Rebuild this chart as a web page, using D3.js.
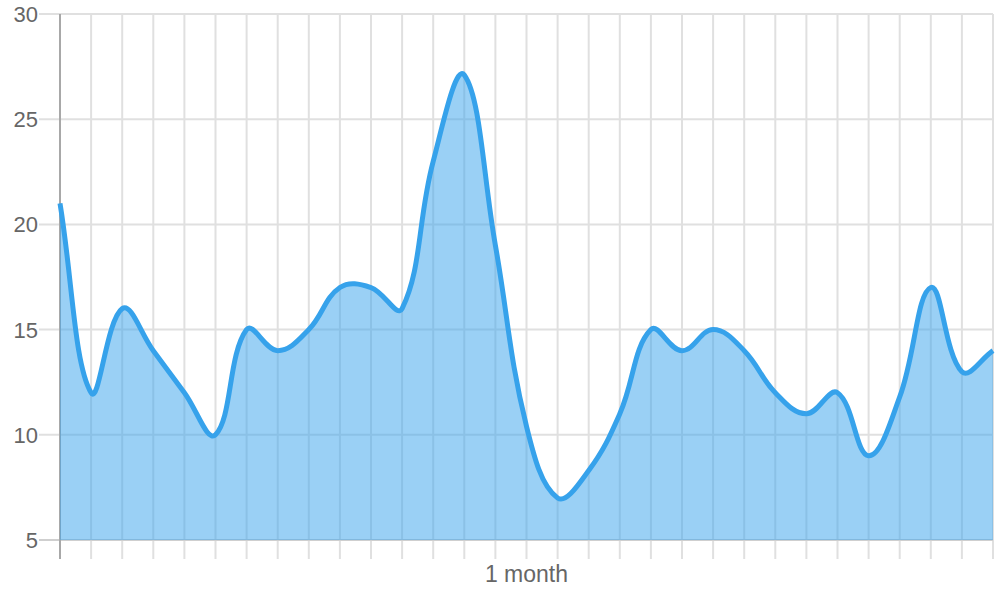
<!DOCTYPE html>
<html>
<head>
<meta charset="utf-8">
<script src="https://cdn.jsdelivr.net/npm/d3@7"></script>
<style>
  html, body { margin: 0; padding: 0; background: #fff; }
  svg { display: block; }
</style>
</head>
<body>
<svg id="chart" width="1000" height="600"></svg>
<script>
// ---- data ----
const values = [21, 12, 16, 14, 12, 10, 15, 14, 15, 17, 17, 16, 23, 27.1, 19, 10.4, 7, 8.3, 11, 15, 14, 15, 14, 12, 11, 12, 9, 11.8, 17, 13, 14];
const yTicks = [5, 10, 15, 20, 25, 30];
const xLabelIndex = [15];
const xLabelText = ["1 month"];

(function () {
// ---- layout ----
const mLeft = 60, mRight = 993, mTop = 14, mBottom = 540;
const svg = d3.select("#chart");

const x = d3.scaleLinear().domain([0, values.length - 1]).range([mLeft, mRight]);
const y = d3.scaleLinear().domain([5, 30]).range([mBottom, mTop]);

const font = "'Liberation Sans', Arial, Helvetica, sans-serif";

// grid: vertical
const g = svg.append("g");
g.selectAll("line.vx").data(d3.range(values.length)).enter().append("line")
  .attr("x1", d => x(d)).attr("x2", d => x(d))
  .attr("y1", mTop).attr("y2", mBottom + 19)
  .attr("stroke", d => d === 0 ? "#a8a8a8" : "#e0e0e0")
  .attr("stroke-width", 2);
// grid: horizontal
g.selectAll("line.hy").data(yTicks).enter().append("line")
  .attr("x1", mLeft - 21).attr("x2", mRight)
  .attr("y1", d => y(d)).attr("y2", d => y(d))
  .attr("stroke", d => d === 5 ? "#cfcfcf" : "#e0e0e0")
  .attr("stroke-width", 2);
// y-axis line on top of horizontals
g.append("line").attr("x1", mLeft).attr("x2", mLeft).attr("y1", mTop).attr("y2", mBottom + 19)
  .attr("stroke", "#a8a8a8").attr("stroke-width", 2);

// y labels
svg.selectAll("text.yl").data(yTicks).enter().append("text")
  .attr("x", 38).attr("y", d => y(d))
  .attr("dy", "0.36em")
  .attr("text-anchor", "end")
  .attr("font-family", font).attr("font-size", 22)
  .attr("fill", "#666")
  .text(d => d);

// x labels
svg.selectAll("text.xl").data(xLabelIndex).enter().append("text")
  .attr("x", d => x(d)).attr("y", 582)
  .attr("text-anchor", "middle")
  .attr("font-family", font).attr("font-size", 23)
  .attr("fill", "#666")
  .text((d, i) => xLabelText[i]);

// ---- Chart.js-like spline (tension 0.4) ----
const tension = 0.4;
const pts = values.map((v, i) => ({ x: x(i), y: y(v) }));
const clampX = v => Math.max(mLeft, Math.min(mRight, v));
const clampY = v => Math.max(mTop, Math.min(mBottom, v));
pts.forEach((cur, i) => {
  const prev = pts[i - 1] || cur, next = pts[i + 1] || cur;
  const d01 = Math.hypot(cur.x - prev.x, cur.y - prev.y);
  const d12 = Math.hypot(next.x - cur.x, next.y - cur.y);
  let s01 = d01 / (d01 + d12), s12 = d12 / (d01 + d12);
  if (!isFinite(s01)) s01 = 0;
  if (!isFinite(s12)) s12 = 0;
  const fa = tension * s01, fb = tension * s12;
  cur.cpPx = clampX(cur.x - fa * (next.x - prev.x));
  cur.cpPy = clampY(cur.y - fa * (next.y - prev.y));
  cur.cpNx = clampX(cur.x + fb * (next.x - prev.x));
  cur.cpNy = clampY(cur.y + fb * (next.y - prev.y));
});

function curvePath(p) {
  p.moveTo(pts[0].x, pts[0].y);
  for (let i = 1; i < pts.length; i++) {
    const a = pts[i - 1], b = pts[i];
    p.bezierCurveTo(a.cpNx, a.cpNy, b.cpPx, b.cpPy, b.x, b.y);
  }
  return p;
}

const areaP = curvePath(d3.path());
areaP.lineTo(x(values.length - 1), y(5));
areaP.lineTo(x(0), y(5));
areaP.closePath();
svg.append("path").attr("d", areaP.toString())
  .attr("fill", "rgba(54,162,235,0.5)");

svg.append("path").attr("d", curvePath(d3.path()).toString())
  .attr("fill", "none")
  .attr("stroke", "#36A2EB")
  .attr("stroke-width", 5)
  .attr("stroke-linejoin", "round");
})();
</script>
</body>
</html>
